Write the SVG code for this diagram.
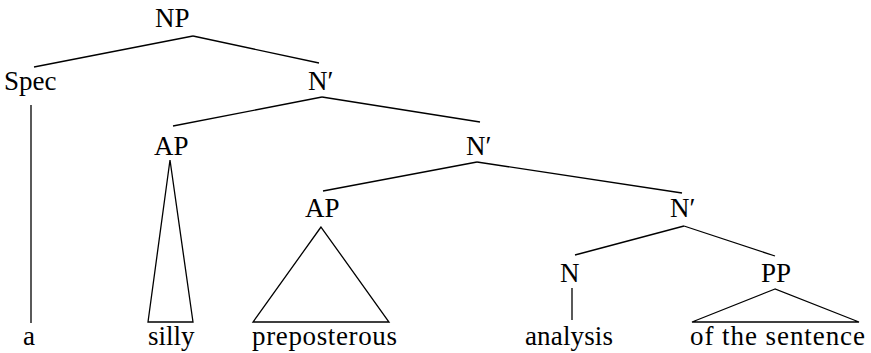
<svg xmlns="http://www.w3.org/2000/svg" width="871" height="353" viewBox="0 0 871 353">
<rect width="871" height="353" fill="#fff"/>
<g id="connectors" stroke="#000" stroke-width="1.3" fill="none">
<line x1="193" y1="36" x2="34" y2="67"/>
<line x1="193" y1="36" x2="319" y2="63"/>
<line x1="31" y1="105" x2="31" y2="323"/>
<line x1="322" y1="97" x2="173" y2="126"/>
<line x1="322" y1="97" x2="480" y2="122"/>
<polygon points="170,160 148,322 193,322"/>
<line x1="477" y1="162" x2="323" y2="191"/>
<line x1="477" y1="162" x2="682" y2="193"/>
<polygon points="321,227 253,322 389,322"/>
<line x1="684" y1="226" x2="575" y2="255"/>
<line x1="684" y1="226" x2="775" y2="256"/>
<line x1="572" y1="288" x2="572" y2="320"/>
<polygon points="775,289 692,322 859,322"/>
</g>
<g id="np"><text x="155" y="27" font-size="27" font-family="Liberation Serif">NP</text></g>
<g id="spec"><text x="4" y="90" font-size="27" font-family="Liberation Serif">Spec</text></g>
<g id="nbar1"><text x="308" y="90" font-size="27" font-family="Liberation Serif">N&#8242;</text></g>
<g id="ap1"><text x="154" y="155" font-size="27" font-family="Liberation Serif">AP</text></g>
<g id="nbar2"><text x="466" y="155" font-size="27" font-family="Liberation Serif">N&#8242;</text></g>
<g id="ap2"><text x="305" y="217" font-size="27" font-family="Liberation Serif">AP</text></g>
<g id="nbar3"><text x="670" y="217" font-size="27" font-family="Liberation Serif">N&#8242;</text></g>
<g id="n"><text x="560" y="282" font-size="27" font-family="Liberation Serif">N</text></g>
<g id="pp"><text x="761" y="282" font-size="27" font-family="Liberation Serif">PP</text></g>
<g id="w-a"><text x="23" y="345" font-size="27" font-family="Liberation Serif">a</text></g>
<g id="w-silly"><text x="148" y="345" font-size="27" font-family="Liberation Serif">silly</text></g>
<g id="w-preposterous"><text x="252" y="345" font-size="27" font-family="Liberation Serif" textLength="145" lengthAdjust="spacing">preposterous</text></g>
<g id="w-analysis"><text x="525" y="345" font-size="27" font-family="Liberation Serif" textLength="88" lengthAdjust="spacing">analysis</text></g>
<g id="w-pp"><text x="690" y="345" font-size="27" font-family="Liberation Serif" textLength="175" lengthAdjust="spacing">of the sentence</text></g>
</svg>
